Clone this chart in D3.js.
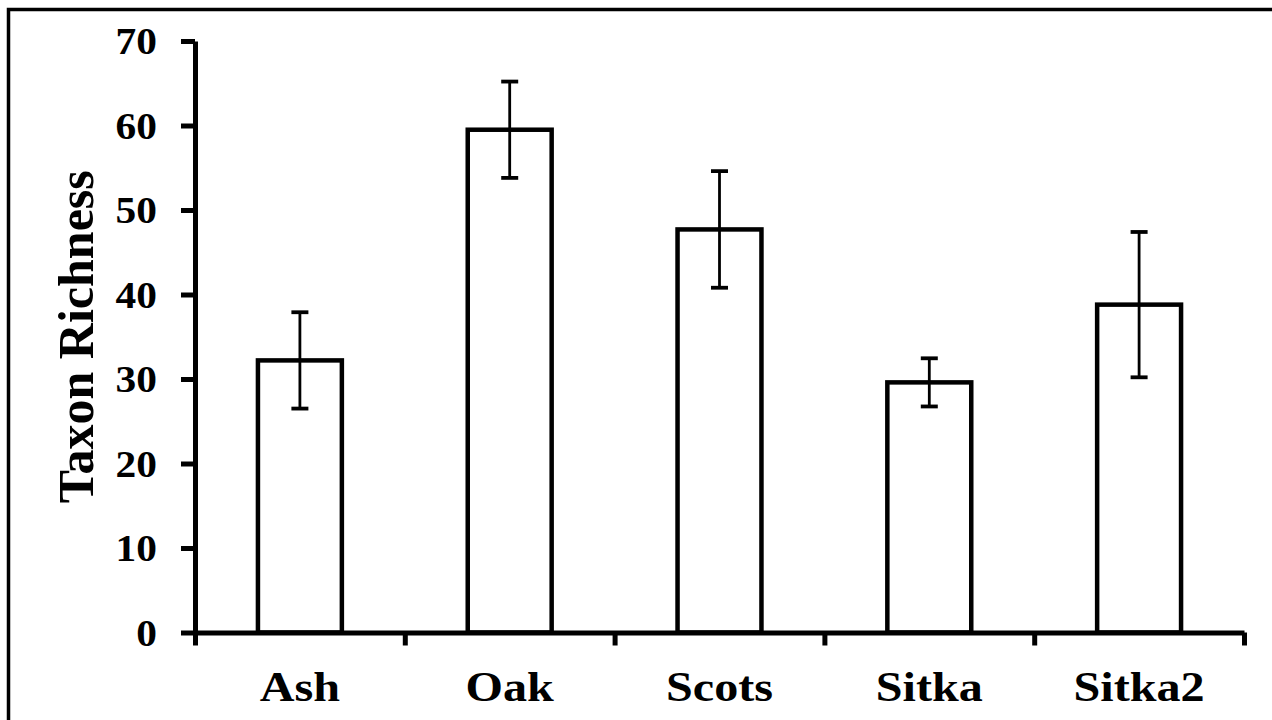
<!DOCTYPE html>
<html>
<head>
<meta charset="utf-8">
<script src="https://cdn.jsdelivr.net/npm/d3@7"></script>
<style>
    html, body { margin: 0; padding: 0; background: #fff; }
    text { font-family: "Liberation Serif", "Times New Roman", serif; font-weight: bold; fill: #000; }
</style>
</head>
<body>
<div class="chart"></div>
<script>
const categories = ["Ash", "Oak", "Scots", "Sitka", "Sitka2"];
const means = [32.2, 59.5, 47.7, 29.6, 38.8];
const errors = [5.7, 5.7, 6.9, 2.85, 8.6];
const yTicks = [0, 10, 20, 30, 40, 50, 60, 70];

const createChart = () => {
    const w = 1272;
    const h = 720;
    const left = 195;
    const right = 1244;
    const top = 41;
    const bottom = 632.5;
    const sx = 1.12;

    const svg = d3
        .select(".chart")
        .append("svg")
        .attr("width", w)
        .attr("height", h);

    // outer frame (right/bottom edges fall off the picture)
    svg.append("rect")
        .attr("x", 8.5)
        .attr("y", 9.5)
        .attr("width", 1400)
        .attr("height", 900)
        .attr("fill", "none")
        .attr("stroke", "#000")
        .attr("stroke-width", 3.5);

    const xScale = d3
        .scaleBand()
        .domain(categories)
        .range([left, right])
        .paddingInner(0.6)
        .paddingOuter(0.3);

    const xEdges = d3
        .scaleLinear()
        .domain([0, categories.length])
        .range([left, right]);

    const yScale = d3
        .scaleLinear()
        .domain([0, 70])
        .range([bottom, top]);

    // bars
    svg.append("g")
        .selectAll("rect")
        .data(categories)
        .enter()
        .append("rect")
        .attr("x", d => xScale(d))
        .attr("y", (d, i) => yScale(means[i]))
        .attr("width", xScale.bandwidth())
        .attr("height", (d, i) => yScale(0) - yScale(means[i]))
        .attr("fill", "#fff")
        .attr("stroke", "#000")
        .attr("stroke-width", 4.5);

    // error bars
    const err = svg.append("g")
        .selectAll("g")
        .data(categories)
        .enter()
        .append("g")
        .attr("transform", d => "translate(" + (xScale(d) + xScale.bandwidth() / 2) + ",0)");

    err.append("line")
        .attr("y1", (d, i) => yScale(means[i] + errors[i]))
        .attr("y2", (d, i) => yScale(means[i] - errors[i]))
        .attr("stroke", "#000")
        .attr("stroke-width", 2.8);

    [1, -1].forEach(s => {
        err.append("line")
            .attr("x1", -8.5)
            .attr("x2", 8.5)
            .attr("y1", (d, i) => yScale(means[i] + s * errors[i]))
            .attr("y2", (d, i) => yScale(means[i] + s * errors[i]))
            .attr("stroke", "#000")
            .attr("stroke-width", 3.8);
    });

    // y axis
    const yAxis = svg.append("g")
        .attr("transform", "translate(" + left + ",0)")
        .call(d3.axisLeft(yScale).tickValues(yTicks).tickSize(14).tickSizeOuter(0).tickPadding(38));

    yAxis.select(".domain").attr("stroke-width", 5);
    yAxis.selectAll(".tick line").attr("stroke-width", 5);
    yAxis.selectAll(".tick text")
        .attr("font-size", 37)
        .attr("font-family", null)
        .attr("dy", "0.34em")
        .attr("transform", "scale(" + sx + ",1)")
        .attr("x", -38 / sx);

    // x axis
    const xAxis = svg.append("g")
        .attr("transform", "translate(0," + bottom + ")")
        .call(d3.axisBottom(xEdges).tickValues(d3.range(categories.length + 1)).tickFormat("").tickSize(13).tickSizeOuter(0));

    xAxis.select(".domain").attr("stroke-width", 5);
    xAxis.selectAll(".tick line").attr("stroke-width", 5);

    // category labels
    svg.append("g")
        .selectAll("text")
        .data(categories)
        .enter()
        .append("text")
        .attr("text-anchor", "middle")
        .attr("font-size", 43)
        .attr("transform", d => "translate(" + (xScale(d) + xScale.bandwidth() / 2) + ",701) scale(" + sx + ",1)")
        .text(d => d);

    // y title
    svg.append("text")
        .attr("text-anchor", "middle")
        .attr("font-size", 50)
        .attr("transform", "translate(93," + (top + bottom) / 2 + ") rotate(-90)")
        .text("Taxon Richness");
};

createChart();
</script>
</body>
</html>
